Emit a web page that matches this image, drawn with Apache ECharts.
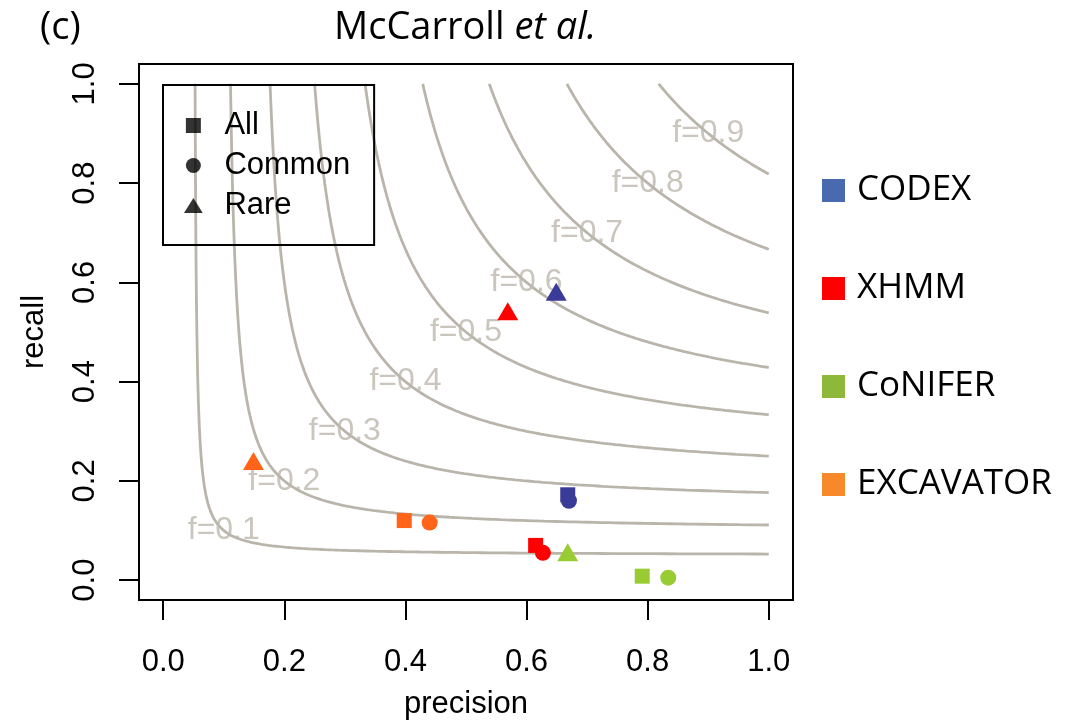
<!DOCTYPE html>
<html>
<head>
<meta charset="utf-8">
<script src="https://cdn.jsdelivr.net/npm/echarts@6/dist/echarts.min.js"></script>
<style>
  html, body { margin: 0; padding: 0; background: #ffffff; }
  #chart { width: 1086px; height: 720px; }
</style>
</head>
<body>
<div id="chart"></div>
<script>
// F-score levels shown as contour lines
const fLevels = [0.1, 0.2, 0.3, 0.4, 0.5, 0.6, 0.7, 0.8, 0.9];
const tickValues = [0, 0.2, 0.4, 0.6, 0.8, 1.0];

const groups = ['All', 'Common', 'Rare'];
const methods = ['CODEX', 'XHMM', 'CoNIFER', 'EXCAVATOR'];

// [precision, recall] per method, ordered All, Common, Rare
const codexPoints     = [[0.668, 0.172], [0.670, 0.160], [0.649, 0.581]];
const xhmmPoints      = [[0.615, 0.070], [0.627, 0.055], [0.569, 0.542]];
const coniferPoints   = [[0.791, 0.008], [0.834, 0.005], [0.668, 0.056]];
const excavatorPoints = [[0.398, 0.120], [0.440, 0.116], [0.149, 0.240]];
const methodPoints = [codexPoints, xhmmPoints, coniferPoints, excavatorPoints];

const markerColors = ['#3a3a98', '#ff0000', '#99cc33', '#ff6418'];
const keyColors    = ['#4a6ab0', '#ff0000', '#8db83a', '#f7892b'];

const contourColor = '#bab5ab';
const rFont = 'Liberation Sans, Arial, Helvetica, sans-serif';
const sideFont = 'Open Sans, Noto Sans, sans-serif';

const groupSymbols = ['rect', 'circle', 'triangle'];
const groupSizes = [15, 16, [21, 18]];
const squareIcon = 'path://M0,0H10V10H0Z';
const triangleIcon = 'path://M10,0L20,16H0Z';
const groupIcons = [squareIcon, 'circle', triangleIcon];

// Iso-F curve: 2PR/(P+R) = f  <=>  (2P - f)(2R - f) = f^2, traced from R = 1 down to P = 1
function isoF(f) {
  const pts = [];
  const n = 240;
  const sMax = Math.log((2 - f) / f);
  for (let i = 0; i <= n; i++) {
    const s = -sMax + (2 * sMax * i) / n;
    const a = f * Math.exp(s);
    const b = f * Math.exp(-s);
    pts.push([(a + f) / 2, (b + f) / 2]);
  }
  return pts;
}

const series = [];

fLevels.forEach(f => {
  series.push({
    type: 'line',
    data: isoF(f),
    showSymbol: false,
    silent: true,
    clip: true,
    z: 1,
    lineStyle: { color: contourColor, width: 2.8 }
  });
});

// Contour labels sit where P = R = f
series.push({
  type: 'scatter',
  data: fLevels.map(f => [f, f]),
  symbolSize: 1,
  silent: true,
  z: 2,
  itemStyle: { color: 'rgba(0,0,0,0)' },
  label: {
    show: true,
    position: 'inside',
    formatter: p => 'f=' + p.value[0].toFixed(1),
    color: '#bdb8ae',
    fontFamily: rFont,
    fontSize: 32
  }
});

methods.forEach((m, k) => {
  series.push({
    name: m,
    type: 'scatter',
    z: 5,
    itemStyle: { color: markerColors[k], opacity: 1 },
    data: methodPoints[k].map((p, i) => ({
      value: p,
      symbol: groupSymbols[i],
      symbolSize: groupSizes[i]
    }))
  });
});

// Empty series so the shape key has entries
groups.forEach(g => {
  series.push({ name: g, type: 'scatter', data: [], itemStyle: { color: '#000' } });
});

const chart = echarts.init(document.getElementById('chart'), null, { renderer: 'canvas' });

const titleStyle = { fontFamily: sideFont, fontSize: 38, fontWeight: 'normal', color: '#000', lineHeight: 40 };

chart.setOption({
  animation: false,
  backgroundColor: '#ffffff',
  title: [
    {
      text: '(c)',
      left: 40, top: 8, padding: 0,
      textStyle: titleStyle
    },
    {
      text: '{n|McCarroll }{i|et al.}',
      left: 334, top: 8, padding: 0,
      textStyle: {
        rich: {
          n: titleStyle,
          i: Object.assign({}, titleStyle, { fontStyle: 'italic' })
        }
      }
    }
  ],
  grid: {
    left: 139, right: 293, top: 64, bottom: 120,
    show: true, borderColor: '#000', borderWidth: 2, backgroundColor: 'transparent',
    outerBoundsMode: 'none'
  },
  xAxis: {
    type: 'value', min: -0.04, max: 1.04,
    name: 'precision', nameLocation: 'middle', nameGap: 89, nameMoveOverlap: false,
    nameTextStyle: { fontFamily: rFont, fontSize: 31, color: '#000', lineHeight: 31 },
    axisLine: { show: false, onZero: false },
    splitLine: { show: false },
    axisTick: { show: true, length: 20, customValues: tickValues, lineStyle: { color: '#000', width: 2 } },
    axisLabel: {
      customValues: tickValues, margin: 47,
      formatter: v => v.toFixed(1),
      fontFamily: rFont, fontSize: 31, color: '#000', lineHeight: 30
    }
  },
  yAxis: {
    type: 'value', min: -0.04, max: 1.04,
    name: 'recall', nameLocation: 'middle', nameGap: 89, nameRotate: 90, nameMoveOverlap: false,
    nameTextStyle: { fontFamily: rFont, fontSize: 31, color: '#000', lineHeight: 31 },
    axisLine: { show: false, onZero: false },
    splitLine: { show: false },
    axisTick: { show: true, length: 20, customValues: tickValues, lineStyle: { color: '#000', width: 2 } },
    axisLabel: {
      customValues: tickValues, margin: 39, rotate: 90,
      formatter: v => v.toFixed(1),
      fontFamily: rFont, fontSize: 31, color: '#000', lineHeight: 30
    }
  },
  legend: [
    {
      data: groups.map((g, i) => ({ name: g, icon: groupIcons[i], itemStyle: { color: '#000' } })),
      orient: 'vertical',
      left: 163, top: 85,
      padding: [25, 24, 24, 21],
      itemWidth: 52, itemHeight: 15, itemGap: 9,
      symbolKeepAspect: true,
      borderColor: '#000', borderWidth: 2, borderRadius: 0,
      selectedMode: false,
      textStyle: { fontFamily: rFont, fontSize: 31, lineHeight: 30, color: '#000' }
    },
    {
      data: methods.map((m, k) => ({ name: m, icon: squareIcon, itemStyle: { color: keyColors[k] } })),
      orient: 'vertical',
      left: 822, top: 173,
      padding: 0,
      itemWidth: 37, itemHeight: 23, itemGap: 63,
      symbolKeepAspect: true,
      selectedMode: false,
      textStyle: { fontFamily: sideFont, fontSize: 35, lineHeight: 34, color: '#000' }
    }
  ],
  series: series
});
</script>
</body>
</html>
